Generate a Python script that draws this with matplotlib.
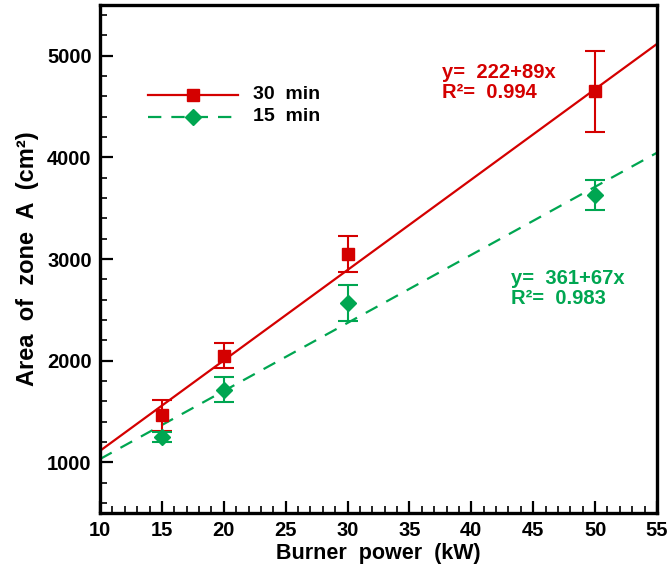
import numpy as np
import matplotlib
matplotlib.use("Agg")
import matplotlib.pyplot as plt
from matplotlib.ticker import MultipleLocator

plt.rcParams['font.family'] = ['Liberation Sans', 'DejaVu Sans']
plt.rcParams['font.weight'] = 'bold'

# Measured data
power = [15, 20, 30, 50]
area_30 = [1460, 2050, 3050, 4650]
err_30 = [155, 120, 180, 400]
area_15 = [1245, 1715, 2565, 3630]
err_15 = [50, 125, 180, 145]

# Linear fits: intercept, slope, R^2
fit_30 = (222, 89, 0.994)
fit_15 = (361, 67, 0.983)

red = '#d40000'
green = '#00a651'
dash = (6, 4.5)

fig = plt.figure(figsize=(6.68, 5.69), dpi=100)
ax = fig.add_axes([0.1497, 0.0984, 0.8338, 0.8928])

xfit = np.array([10, 55])
ax.plot(xfit, fit_30[0] + fit_30[1] * xfit, color=red, lw=1.6)
ax.plot(xfit, fit_15[0] + fit_15[1] * xfit, color=green, lw=1.6, dashes=dash)

ax.errorbar(power, area_30, yerr=err_30, fmt='s', color=red, ms=8,
            capsize=7, elinewidth=1.5, capthick=1.5)
ax.errorbar(power, area_15, yerr=err_15, fmt='D', color=green, ms=8,
            capsize=7, elinewidth=1.5, capthick=1.5)

# Legend drawn as line + marker samples
lx = np.array([13.9, 21.15])
ly30, ly15 = 4617, 4400
ax.plot(lx, [ly30, ly30], color=red, lw=1.6)
ax.plot([17.5], [ly30], 's', color=red, ms=8)
ax.plot(lx, [ly15, ly15], color=green, lw=1.6, dashes=dash)
ax.plot([17.5], [ly15], 'D', color=green, ms=8)
ax.text(22.35, ly30, '30  min', fontsize=14, fontweight='bold', va='center')
ax.text(22.35, ly15, '15  min', fontsize=14, fontweight='bold', va='center')

ax.text(37.6, 4740, f'y=  {fit_30[0]}+{fit_30[1]}x\nR\u00b2=  {fit_30[2]:.3f}',
        color=red, fontsize=14.5, fontweight='bold', va='center', linespacing=1.05)
ax.text(43.2, 2710, f'y=  {fit_15[0]}+{fit_15[1]}x\nR\u00b2=  {fit_15[2]:.3f}',
        color=green, fontsize=14.5, fontweight='bold', va='center', linespacing=1.05)

ax.set_xlim(10, 55)
ax.set_ylim(500, 5500)
ax.xaxis.set_major_locator(MultipleLocator(5))
ax.xaxis.set_minor_locator(MultipleLocator(1))
ax.yaxis.set_major_locator(MultipleLocator(1000))
ax.yaxis.set_minor_locator(MultipleLocator(200))
ax.tick_params(which='both', direction='in', top=False, right=False,
               labelsize=14.5, width=1.6, pad=6)
ax.tick_params(which='major', length=9)
ax.tick_params(which='minor', length=5, width=1.2)
for lbl in ax.get_xticklabels() + ax.get_yticklabels():
    lbl.set_fontweight('bold')
for s in ax.spines.values():
    s.set_linewidth(2.4)

ax.set_xlabel('Burner  power  (kW)', fontsize=15.5, fontweight='bold', labelpad=2)
ax.set_ylabel('Area  of  zone  A  (cm\u00b2)', fontsize=17, fontweight='bold', labelpad=6)

fig.savefig('out.png', dpi=100)
